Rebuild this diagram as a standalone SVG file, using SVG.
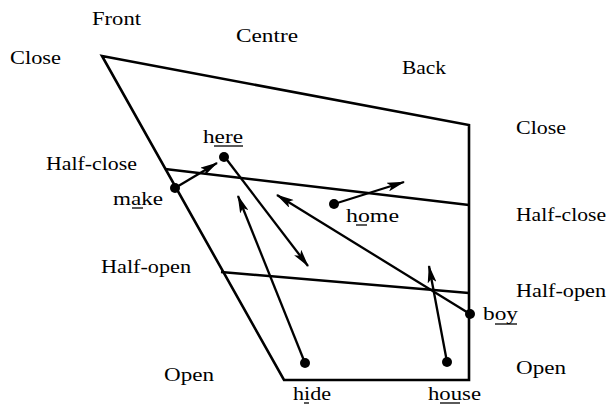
<svg xmlns="http://www.w3.org/2000/svg" width="609" height="406" viewBox="0 0 609 406">
<style>
text{font-family:"Liberation Serif","Times New Roman",serif;font-size:19.5px;fill:#000}
.frame{fill:none;stroke:#000;stroke-width:2.6}
.arr{fill:none;stroke:#000;stroke-width:2.3;marker-end:url(#ah)}
.ul{stroke:#000;stroke-width:1.3}
.dot{fill:#000}
</style>
<defs>
<marker id="ah" viewBox="0 0 18 9" refX="17" refY="4.5" markerWidth="18" markerHeight="9" markerUnits="userSpaceOnUse" orient="auto">
<path d="M0,0 L18,4.5 L0,9 L4,4.5 z" fill="#000"/>
</marker>
</defs>
<g id="chart">
<polygon class="frame" points="102,56 469,125 469,380 284,380"/>
<line class="frame" x1="165" y1="169" x2="469" y2="205"/>
<line class="frame" x1="221" y1="272" x2="469" y2="293"/>
</g>
<g id="labels">
<text x="92" y="25" textLength="49" lengthAdjust="spacingAndGlyphs">Front</text>
<text x="236" y="42" textLength="62" lengthAdjust="spacingAndGlyphs">Centre</text>
<text x="10" y="64" textLength="51" lengthAdjust="spacingAndGlyphs">Close</text>
<text x="402" y="74" textLength="44" lengthAdjust="spacingAndGlyphs">Back</text>
<text x="516" y="134" textLength="50" lengthAdjust="spacingAndGlyphs">Close</text>
<text x="46" y="170" textLength="91" lengthAdjust="spacingAndGlyphs">Half-close</text>
<text x="516" y="221" textLength="90" lengthAdjust="spacingAndGlyphs">Half-close</text>
<text x="101" y="273" textLength="90" lengthAdjust="spacingAndGlyphs">Half-open</text>
<text x="516" y="297" textLength="90" lengthAdjust="spacingAndGlyphs">Half-open</text>
<text x="164" y="381" textLength="50" lengthAdjust="spacingAndGlyphs">Open</text>
<text x="516" y="374" textLength="50" lengthAdjust="spacingAndGlyphs">Open</text>
</g>
<g id="connectors">
<line class="arr" x1="175" y1="188" x2="217" y2="163"/>
<line class="arr" x1="224" y1="156" x2="308" y2="266"/>
<line class="arr" x1="334" y1="204" x2="404" y2="182"/>
<line class="arr" x1="305" y1="363" x2="238" y2="196"/>
<line class="arr" x1="447" y1="362" x2="429" y2="266"/>
<line class="arr" x1="470" y1="314" x2="277" y2="195"/>
</g>
<g id="make">
<circle class="dot" cx="175" cy="188" r="5"/>
<text x="113" y="205" textLength="50" lengthAdjust="spacingAndGlyphs">make</text>
<line class="ul" x1="132" y1="208" x2="143" y2="208"/>
</g>
<g id="here">
<circle class="dot" cx="224" cy="157" r="5"/>
<text x="203" y="143" textLength="40" lengthAdjust="spacingAndGlyphs">here</text>
<line class="ul" x1="214" y1="146" x2="243" y2="146"/>
</g>
<g id="home">
<circle class="dot" cx="334" cy="204" r="5"/>
<text x="346" y="222" textLength="53" lengthAdjust="spacingAndGlyphs">home</text>
<line class="ul" x1="356" y1="225" x2="367" y2="225"/>
</g>
<g id="boy">
<circle class="dot" cx="470" cy="314" r="5"/>
<text x="483" y="320" textLength="35" lengthAdjust="spacingAndGlyphs">boy</text>
<line class="ul" x1="495" y1="324" x2="517" y2="324"/>
</g>
<g id="hide">
<circle class="dot" cx="305" cy="363" r="5"/>
<text x="293" y="400" textLength="38" lengthAdjust="spacingAndGlyphs">hide</text>
<line class="ul" x1="304" y1="403" x2="309" y2="403"/>
</g>
<g id="house">
<circle class="dot" cx="447" cy="362" r="5"/>
<text x="428" y="400" textLength="53" lengthAdjust="spacingAndGlyphs">house</text>
<line class="ul" x1="440" y1="403" x2="460" y2="403"/>
</g>
</svg>
